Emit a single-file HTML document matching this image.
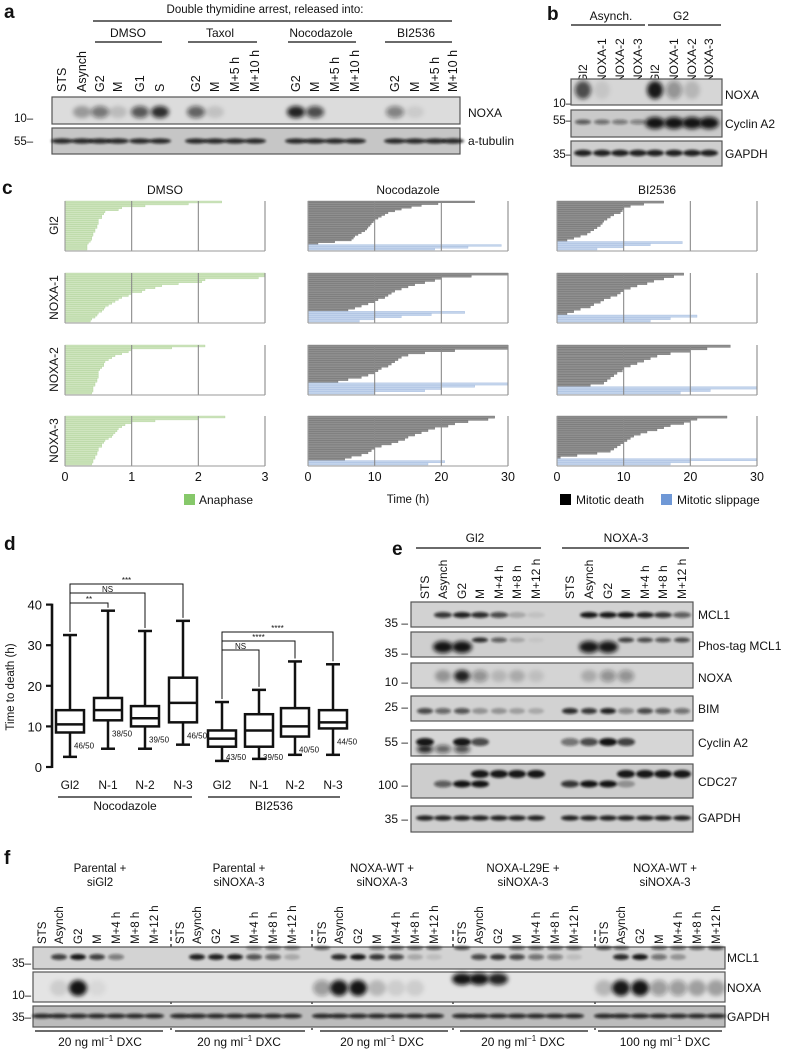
<!DOCTYPE html>
<html><head><meta charset="utf-8">
<style>
html,body{margin:0;padding:0;background:#fff;}
svg{display:block;font-family:"Liberation Sans",sans-serif;}
</style></head>
<body>
<svg id="fig" width="786" height="1051" viewBox="0 0 786 1051" xmlns="http://www.w3.org/2000/svg">
<defs>
<filter id="blur" x="-50%" y="-100%" width="200%" height="300%"><feGaussianBlur stdDeviation="1.3"/></filter>
<filter id="blur2" x="-50%" y="-100%" width="200%" height="300%"><feGaussianBlur stdDeviation="2.2"/></filter>
</defs>
</svg>
<script>
// ---------- panel c data (hours) ----------
const dmsoGl2=[2.35,1.85,1.2,0.85,0.8,0.6,0.58,0.55,0.55,0.5,0.5,0.5,0.48,0.48,0.45,0.45,0.42,0.42,0.4,0.4,0.38,0.35,0.33,0.33,0.33];
const dmsoN1=[3,3,2.9,2.1,2.05,1.7,1.45,1.35,1.2,1.15,1.0,0.95,0.85,0.8,0.75,0.7,0.65,0.6,0.58,0.55,0.5,0.48,0.45,0.4,0.38];
const dmsoN2=[2.1,1.6,1.0,0.95,0.85,0.75,0.7,0.65,0.6,0.58,0.58,0.55,0.52,0.5,0.5,0.5,0.5,0.48,0.48,0.45,0.45,0.42,0.42,0.42,0.4];
const dmsoN3=[2.4,2.0,1.35,1.0,0.9,0.85,0.8,0.78,0.75,0.72,0.7,0.65,0.6,0.58,0.55,0.55,0.5,0.5,0.48,0.48,0.45,0.45,0.42,0.42,0.4];
const nocoDeathGl2=[25,19.5,17,15.5,14,13,12,11.5,11,10.5,10,9.8,9.5,9.3,9,8.8,8.5,8,7.5,7,6.8,6.5,4,1.5];
const nocoSlipGl2=[29,24,19];
const nocoDeathN1=[30,24.5,20,19,17.5,16,15,14,13,12.5,12,11.5,10.5,10,9,8,7,6];
const nocoSlipN1=[23.5,18.5,14,10,7.7];
const nocoDeathN2=[30,30,22,17.5,15,14,13.5,13,12.5,12,11,10.5,10,9,8,6,4.5];
const nocoSlipN2=[30,25,20,17.5,10];
const nocoDeathN3=[28,27,24,22,21,19,18,17,16,15,14.5,13.5,12.5,11,10,9.5,9,8,6.5,5.5];
const nocoSlipN3=[20.5,18];
const biDeathGl2=[16,13,11,10,9.8,9.5,8.5,8,7.5,7,6.8,6.5,6,5.5,5,4.5,3.5,2.5,1.5];
const biSlipGl2=[18.8,14,10,6];
const biDeathN1=[19,17.5,16,14.5,13.5,12,11,10,9.5,9,8,7,6.5,5.5,5,3.5,2.5,1.5];
const biSlipN1=[21,17,14];
const biDeathN2=[26,22.5,20,17,15,14,13,12,11,10,9.8,9,8.5,8,7.5,7,5];
const biSlipN2=[30,23,18.5];
const biDeathN3=[25.5,21,20,19,17,16,15,13.5,12.5,11.5,11,10.5,10,9.5,9,8.5,8,6,3,0.5];
const biSlipN3=[30,20,17];
const cRowLabels=["Gl2","NOXA-1","NOXA-2","NOXA-3"];
const dmsoTicks=["0","1","2","3"];
const timeTicks=["0","10","20","30"];
// ---------- panel d data ----------
const dCategories=["Gl2","N-1","N-2","N-3","Gl2","N-1","N-2","N-3"];
const dWhiskerLow=[2.5,4.5,4.5,5.5,1.5,2,3,3];
const dQ1=[8.5,11.5,10,11,5,5,7.5,9.5];
const dMedian=[10.5,14,12,15.8,7,9,10,11];
const dQ3=[14,17,15,22,9,13,14.5,14];
const dWhiskerHigh=[32.5,38.5,33.5,36,16,19,26,25.3];
const dCounts=["46/50","38/50","39/50","46/50","43/50","39/50","40/50","44/50"];
const dYTicks=[0,10,20,30,40];

const NS="http://www.w3.org/2000/svg";
const svg=document.getElementById('fig');
function el(tag,attrs,parent){const e=document.createElementNS(NS,tag);for(const k in attrs)e.setAttribute(k,attrs[k]);(parent||svg).appendChild(e);return e;}
function txt(s,x,y,size,anchor,parent,extra){const t=el('text',Object.assign({x:x,y:y,'font-size':size,'text-anchor':anchor||'start',fill:'#111'},extra||{}),parent);t.textContent=s;return t;}
function rtxt(s,x,y,size,parent){const t=el('text',{transform:`translate(${x},${y}) rotate(-90)`,'font-size':size,fill:'#111'},parent);t.textContent=s;return t;}

[['a',4,18],['b',547,20],['c',2,194],['d',4,550],['e',392,555],['f',4,864]].forEach(p=>{
  const t=txt(p[0],p[1],p[2],19,'start',svg,{'font-weight':'bold'});
  
  
});

function blot(name,x,y,w,h,bg,bands){
  const g=el('g',{});
  
  
  el('rect',{x:x,y:y,width:w,height:h,fill:bg,stroke:'#555','stroke-width':1.2},g);
  bands.forEach(b=>{
    if(b[4]<=0)return;
    el('ellipse',{cx:b[0],cy:b[1],rx:b[2],ry:b[3],fill:'#111','fill-opacity':b[4],filter:b[5]?'url(#blur2)':'url(#blur)'},g);
  });
  return g;
}
function laneBands(lanes,ints,cy,rx,ry,big){const r=[];lanes.forEach((lx,i)=>{if(ints[i]>0)r.push([lx,cy,rx,ry,ints[i],big]);});return r;}
function laneLabels(lanes,labels,bottom,size,name){
  const g=el('g',{});
  lanes.forEach((lx,i)=>{rtxt(labels[i],lx+4,bottom,size,g);});
}
function line(x1,y1,x2,y2,w,c,parent,dash){return el('line',Object.assign({x1:x1,y1:y1,x2:x2,y2:y2,stroke:c||'#111','stroke-width':w||1},dash?{'stroke-dasharray':dash}:{}),parent);}

// ---------- panel a ----------
(function(){
  const g=el('g',{});
  txt('Double thymidine arrest, released into:',265,13,11.5,'middle',g);
  line(93,21,452,21,1.3,'#111',g);
  [['DMSO',128,95,162],['Taxol',220,188,257],['Nocodazole',321,288,356],['BI2536',416,385,452]].forEach(d=>{
    txt(d[0],d[1],37,12,'middle',g);line(d[2],42,d[3],42,1.3,'#111',g);
  });
  const lanes=[62,82,100,118,140,160,196,215,235,255,296,315,335,355,395,415,435,453];
  const labs=['STS','Asynch','G2','M','G1','S','G2','M','M+5 h','M+10 h','G2','M','M+5 h','M+10 h','G2','M','M+5 h','M+10 h'];
  laneLabels(lanes,labs,92,12.5,'lane-labels-a');
  blot('blot-a-noxa',52,97,408,27,'#dcdcdc',laneBands(lanes,[0,.3,.5,.15,.65,.85,.6,.12,0,0,.9,.7,0,0,.45,.08,0,0],112,9,6,true));
  blot('blot-a-tubulin',52,128,408,26,'#c6c6c6',laneBands(lanes,[.85,.85,.85,.85,.85,.85,.85,.85,.85,.85,.85,.85,.85,.85,.85,.85,.85,.85],141,11,2.6,false));
  txt('NOXA',468,117,12,'start',g);txt('a-tubulin',468,145,12,'start',g);
  txt('10–',14,122,11.5,'start',g);txt('55–',14,145,11.5,'start',g);
})();

// ---------- panel b ----------
(function(){
  const g=el('g',{});
  txt('Asynch.',611,20,12,'middle',g);line(571,25,645,25,1.3,'#111',g);
  txt('G2',681,20,12,'middle',g);line(648,25,721,25,1.3,'#111',g);
  const lanes=[583,602,620,638,655,674,692,709];
  laneLabels(lanes,['Gl2','NOXA-1','NOXA-2','NOXA-3','Gl2','NOXA-1','NOXA-2','NOXA-3'],83,12,'lane-labels-b');
  blot('blot-b-noxa',571,79,151,26,'#d6d6d6',laneBands(lanes,[.7,.08,0,0,.95,.35,.15,0],90,8,9,true));
  blot('blot-b-cyclinA2',571,110,151,27,'#cacaca',[].concat(
    laneBands(lanes,[.6,.5,.45,.4,0,0,0,0],122,8,2.5,false),
    laneBands(lanes,[0,0,0,0,.97,.97,.97,.97],123,10,6,true)));
  blot('blot-b-gapdh',571,141,151,25,'#cfcfcf',laneBands(lanes,[.9,.9,.9,.9,.9,.9,.9,.9],153,9,3.2,false));
  txt('NOXA',725,99,12,'start',g);txt('Cyclin A2',725,128,12,'start',g);txt('GAPDH',725,158,12,'start',g);
  txt('10–',553,107,11.5,'start',g);txt('55–',553,124,11.5,'start',g);txt('35–',553,158,11.5,'start',g);
})();

// ---------- panel c ----------
const cRowsY=[[201,250],[273,322],[345,394],[416,465]];
function cx0(col){return [65,308,557][col];}
const PW=200;
function xScale(col,v){const max=col===0?3:30;return cx0(col)+v/max*PW;}
function drawPanel(col,row,death,slip){
  const g=el('g',{});
  
  
  const y0=cRowsY[row][0],y1=cRowsY[row][1];
  const n=death.length+slip.length, bh=(y1-y0)/n;
  death.forEach((v,i)=>{
    const r=el('rect',{x:cx0(col),y:y0+i*bh,width:xScale(col,v)-cx0(col),height:bh,fill:col===0?'#cfe5bf':'#8f8f8f',stroke:col===0?'#a8cf90':'#6a6a6a','stroke-width':0.35},g);
    
    
  });
  slip.forEach((v,i)=>{
    const r=el('rect',{x:cx0(col),y:y0+(death.length+i)*bh,width:xScale(col,v)-cx0(col),height:bh,fill:'#c3d4ec',stroke:'#9fb7dc','stroke-width':0.35},g);
    
    
  });
  for(let k=1;k<=3;k++){const gx=cx0(col)+PW*k/3;line(gx,y0,gx,y1+1,1.1,'#8a8a8a',g);}
  line(cx0(col),y0,cx0(col),y1+1,1.1,'#9a9a9a',g);
  line(cx0(col),y1+1,cx0(col)+PW,y1+1,1.1,'#9a9a9a',g);
}
const cData=[[dmsoGl2,dmsoN1,dmsoN2,dmsoN3],[nocoDeathGl2,nocoDeathN1,nocoDeathN2,nocoDeathN3],[biDeathGl2,biDeathN1,biDeathN2,biDeathN3]];
const cSlip=[[[],[],[],[]],[nocoSlipGl2,nocoSlipN1,nocoSlipN2,nocoSlipN3],[biSlipGl2,biSlipN1,biSlipN2,biSlipN3]];
for(let c=0;c<3;c++)for(let r=0;r<4;r++)drawPanel(c,r,cData[c][r],cSlip[c][r]);
['DMSO','Nocodazole','BI2536'].forEach((t,c)=>{const e=txt(t,cx0(c)+PW/2,194,12,'middle');});
cRowLabels.forEach((t,r)=>{const m=(cRowsY[r][0]+cRowsY[r][1])/2;const e=el('text',{transform:`translate(58,${m}) rotate(-90)`,'font-size':12,'text-anchor':'middle',fill:'#111'});e.textContent=t;});
for(let c=0;c<3;c++){const ticks=c===0?dmsoTicks:timeTicks;ticks.forEach((t,k)=>{const e=txt(t,cx0(c)+PW*k/3,481,12.5,'middle');});}
(function(){
  const t=txt('Time (h)',408,503,11.5,'middle');
  const g=el('g',{});
  el('rect',{x:184,y:494,width:11,height:11,fill:'#86c86a'},g);txt('Anaphase',199,504,12,'start',g);
  el('rect',{x:560,y:494,width:11,height:11,fill:'#000'},g);txt('Mitotic death',576,504,12,'start',g);
  el('rect',{x:661,y:494,width:11,height:11,fill:'#6f98d6'},g);txt('Mitotic slippage',677,504,12,'start',g);
})();

// ---------- panel d ----------
(function(){
  const g=el('g',{});
  const yS=v=>767-v*4.06;
  const xC=[70,108,145,183,222,259,295,333];
  line(52,yS(40)-1,52,yS(0)+1,2.6,'#111',g);
  dYTicks.forEach(v=>{line(46,yS(v),52,yS(v),2.2,'#111',g);const t=txt(String(v),42,yS(v)+5,13,'end',g);});
  const yt=el('text',{transform:`translate(14,687) rotate(-90)`,'font-size':11.5,'text-anchor':'middle',fill:'#111'},g);yt.textContent='Time to death (h)';
  
  dCategories.forEach((c,i)=>{
    const b=el('g',{},g);
    const x=xC[i],hw=14;
    line(x,yS(dWhiskerHigh[i]),x,yS(dQ3[i]),2.5,'#111',b);
    line(x,yS(dQ1[i]),x,yS(dWhiskerLow[i]),2.5,'#111',b);
    line(x-7,yS(dWhiskerHigh[i]),x+7,yS(dWhiskerHigh[i]),2.5,'#111',b);
    line(x-7,yS(dWhiskerLow[i]),x+7,yS(dWhiskerLow[i]),2.5,'#111',b);
    el('rect',{x:x-hw,y:yS(dQ3[i]),width:hw*2,height:yS(dQ1[i])-yS(dQ3[i]),fill:'#fff',stroke:'#111','stroke-width':2.5},b);
    line(x-hw,yS(dMedian[i]),x+hw,yS(dMedian[i]),2.5,'#111',b);
    txt(dCounts[i],x+4,Math.min(yS(dQ1[i])+16,760),8,'start',b);
    txt(c,x,789,12,'middle',b);
  });
  const br=[[0,3,584,'***'],[0,2,593,'NS'],[0,1,603,'**'],[4,7,632,'****'],[4,6,641,'****'],[4,5,650,'NS']];
  br.forEach(d=>{
    const a=xC[d[0]],b2=xC[d[1]],y=d[2];
    const p=el('polyline',{points:`${a},${yS(dWhiskerHigh[d[0]])-3} ${a},${y} ${b2},${y} ${b2},${yS(dWhiskerHigh[d[1]])-3}`,fill:'none',stroke:'#111','stroke-width':1},g);
    
    txt(d[3],(a+b2)/2,y-1,8,'middle',g);
  });
  line(58,797,192,797,1.3,'#111',g);line(208,797,340,797,1.3,'#111',g);
  txt('Nocodazole',125,810,12,'middle',g);txt('BI2536',274,810,12,'middle',g);
})();

// ---------- panel e ----------
(function(){
  const g=el('g',{});
  txt('Gl2',475,542,12,'middle',g);line(416,548,541,548,1.3,'#111',g);
  txt('NOXA-3',626,542,12,'middle',g);line(562,548,689,548,1.3,'#111',g);
  const L=[425,443,462,480,499,517,536,570,589,608,626,645,663,682];
  const labs=['STS','Asynch','G2','M','M+4 h','M+8 h','M+12 h','STS','Asynch','G2','M','M+4 h','M+8 h','M+12 h'];
  laneLabels(L,labs,599,12,'lane-labels-e');
  const X=411,W=282;
  blot('blot-e-mcl1',X,602,W,25,'#d2d2d2',laneBands(L,[0,.8,.9,.85,.7,.2,.08,0,.95,.95,.95,.9,.8,.6],615,9,3,false));
  blot('blot-e-phos-mcl1',X,632,W,25,'#cfcfcf',[].concat(
    laneBands(L,[0,.97,.97,0,0,0,0,0,.95,.95,0,0,0,0],647,10,6,true),
    laneBands(L,[0,0,0,.85,.6,.2,.05,0,0,0,.75,.7,.65,.7],640,8,2.5,false)));
  blot('blot-e-noxa',X,663,W,25,'#d4d4d4',laneBands(L,[0,.3,.9,.35,.15,.2,.1,0,.2,.35,.35,0,0,0],676,8,6,true));
  blot('blot-e-bim',X,696,W,25,'#d2d2d2',laneBands(L,[.7,.55,.65,.3,.3,.25,.2,.85,.8,.9,.4,.7,.6,.5],711,8,3,false));
  blot('blot-e-cyclinA2',X,730,W,26,'#d6d6d6',[].concat(
    laneBands(L,[.95,0,.95,.7,0,0,0,.5,.7,.97,.75,0,0,0],742,9,4,false),
    laneBands(L,[.9,.6,.7,0,0,0,0,0,0,0,0,0,0,0],749,8,4,true)));
  blot('blot-e-cdc27',X,764,W,34,'#cdcdcd',[].concat(
    laneBands(L,[0,.6,.97,.97,0,0,0,.8,.97,.97,.3,0,0,0],784,9,3.5,false),
    laneBands(L,[0,0,0,.95,.95,.95,.95,0,0,0,.95,.95,.95,.95],774,9,4,false)));
  blot('blot-e-gapdh',X,806,W,26,'#cfcfcf',laneBands(L,[.9,.9,.9,.9,.9,.9,.9,.9,.9,.9,.9,.9,.9,.9],818,9,2.6,false));
  [['MCL1',619],['Phos-tag MCL1',650],['NOXA',682],['BIM',713],['Cyclin A2',747],['CDC27',786],['GAPDH',822]].forEach(d=>txt(d[0],698,d[1],12,'start',g));
  [['35 –',627],['35 –',657],['10 –',686],['25 –',711],['55 –',746],['100 –',789],['35 –',823]].forEach(d=>txt(d[0],408,d[1],12,'end',g));
})();

// ---------- panel f ----------
(function(){
  const g=el('g',{});
  const centers=[100,239,382,523,665];
  const t1=['Parental +','Parental +','NOXA-WT +','NOXA-L29E +','NOXA-WT +'];
  const t2=['siGl2','siNOXA-3','siNOXA-3','siNOXA-3','siNOXA-3'];
  centers.forEach((c,i)=>{txt(t1[i],c,872,11.5,'middle',g);txt(t2[i],c,886,11.5,'middle',g);});
  const bases=[42,180,322,462,604], off=[0,17,36,55,74,93,112];
  const labs=['STS','Asynch','G2','M','M+4 h','M+8 h','M+12 h'];
  const L=[];bases.forEach(b=>off.forEach(o=>L.push(b+o)));
  const all=[];for(let i=0;i<5;i++)labs.forEach(l=>all.push(l));
  laneLabels(L,all,944,11.5,'lane-labels-f');
  const X=33,W=692;
  blot('blot-f-mcl1',X,947,W,22,'#d3d3d3',[].concat(
    laneBands(L,[0,.75,.95,.75,.45,0,0, 0,.9,.9,.9,.65,.55,.2, 0,.85,.95,.8,.7,.2,.1, 0,.7,.8,.7,.5,.4,.1, 0,.85,.95,.5,.3,0,0],957,8,3,false),
    laneBands(L,[0,0,0,0,0,0,0, 0,0,0,0,.4,.5,.5, .6,0,0,.5,.6,.6,.6, .7,0,0,.6,.6,.6,.6, .7,.6,0,.6,.6,.6,.7],948,8,2,false)));
  blot('blot-f-noxa',X,972,W,30,'#e4e4e4',[].concat(
    laneBands(L,[0,.1,.97,.05,0,0,0, 0,0,0,0,0,0,0, .35,.95,.97,.2,.1,.1,0, 0,0,0,0,0,0,0, .2,.95,.97,.35,.35,.3,.3],988,9,8,true),
    laneBands(L,[0,0,0,0,0,0,0, 0,0,0,0,0,0,0, 0,0,0,0,0,0,0, .97,.97,.9,0,0,0,0, 0,0,0,0,0,0,0],979,10,6,true)));
  blot('blot-f-gapdh',X,1006,W,21,'#bcbcbc',laneBands(L,L.map(()=>.85),1016,10,2.4,false));
  [171,312,453,595].forEach(x=>line(x,930,x,1030,1.2,'#111',g,'4,3'));
  [[35,163],[175,305],[320,448],[460,588],[598,722]].forEach(s=>line(s[0],1031,s[1],1031,1.3,'#111',g));
  const conc=['20','20','20','20','100'];
  centers.forEach((c,i)=>{
    const t=el('text',{x:c,y:1046,'font-size':12,'text-anchor':'middle',fill:'#111'},g);
    const a=el('tspan',{},t);a.textContent=conc[i]+' ng ml';
    const s=el('tspan',{dy:-5,'font-size':8},t);s.textContent='−1';
    const b=el('tspan',{dy:5},t);b.textContent=' DXC';
  });
  [['MCL1',962],['NOXA',992],['GAPDH',1021]].forEach(d=>txt(d[0],727,d[1],12,'start',g));
  [['35–',967],['10–',999],['35–',1021]].forEach(d=>txt(d[0],12,d[1],11.5,'start',g));
})();
</script>
</body></html>
